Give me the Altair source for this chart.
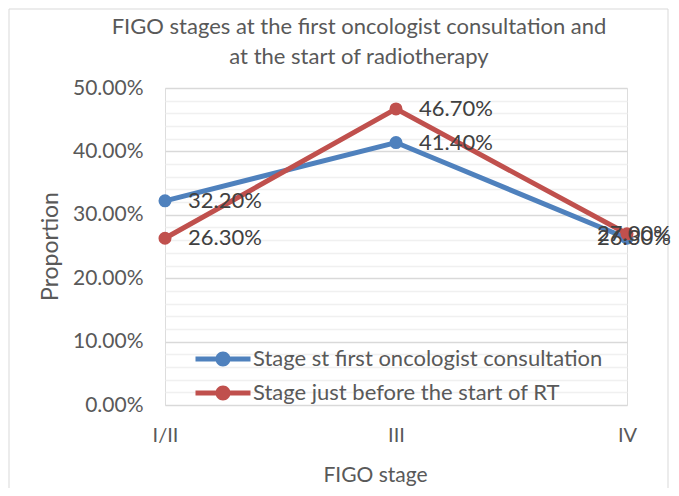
import altair as alt
import pandas as pd

stages = ["I/II", "III", "IV"]
series_names = ["Stage st first oncologist consultation", "Stage just before the start of RT"]
first_consult = [0.322, 0.414, 0.263]
before_rt = [0.263, 0.467, 0.270]
colors = ["#4F81BD", "#C0504D"]
y_ticks = [i / 100 for i in range(0, 52, 2)]
title_lines = ["FIGO stages at the first oncologist consultation and", "at the start of radiotherapy"]

rows = []
for name, vals in zip(series_names, [first_consult, before_rt]):
    for s, v in zip(stages, vals):
        rows.append({"stage": s, "series": name, "value": v})
df = pd.DataFrame(rows)

W, H = 462, 317
FONT = "Lato"
TXT = "#595959"

x_enc = alt.X(
    "stage:N", sort=stages,
    scale=alt.Scale(type="point", padding=0),
    axis=alt.Axis(
        title="FIGO stage", domain=False, ticks=False, grid=False,
        labelFontSize=20, labelColor=TXT, labelFont=FONT, labelPadding=20, labelAngle=0,
        titleFontSize=21, titleColor=TXT, titleFont=FONT, titleFontWeight="normal",
        titleX=210, titleY=70, titleBaseline="middle",
    ),
)
y_enc = alt.Y(
    "value:Q",
    scale=alt.Scale(domain=[0, 0.5], nice=False, zero=True),
    axis=alt.Axis(
        title="Proportion", values=y_ticks, format=".2%",
        labelExpr="round(datum.value*100) % 10 === 0 ? datum.label : ''",
        domain=False, ticks=False,
        gridColor={"condition": {"test": "round(datum.value*100) % 10 === 0", "value": "#D9D9D9"}, "value": "#F0F0F0"},
        gridWidth=1.3,
        labelFontSize=21, labelColor=TXT, labelFont=FONT, labelPadding=22,
        titleFontSize=23, titleColor=TXT, titleFont=FONT, titleFontWeight="normal",
        titleX=-115, titleY=158, titleBaseline="middle", titleAngle=-90,
    ),
)

color_scale = alt.Scale(domain=series_names, range=colors)

line_layers = [
    alt.Chart(df).transform_filter(alt.datum.series == name).mark_line(strokeWidth=5, color=col).encode(
        x=x_enc, y=y_enc,
    )
    for name, col in zip(series_names, colors)
]

legend_path = ("M-2.75,-0.25 L2.75,-0.25 L2.75,0.25 L-2.75,0.25 Z "
               "M-0.75,0 A0.75,0.75 0 1,1 0.75,0 A0.75,0.75 0 1,1 -0.75,0 Z")

points = alt.Chart(df).mark_point(filled=True, size=170, opacity=1).encode(
    x=x_enc, y=y_enc,
    color=alt.Color("series:N", scale=color_scale, legend=alt.Legend(
        title=None, orient="none", legendX=47, legendY=260,
        symbolType=legend_path, symbolSize=400, symbolStrokeWidth=0, symbolOpacity=1,
        labelFontSize=22, labelColor=TXT, labelFont=FONT, labelOffset=19,
        labelLimit=500, rowPadding=12, padding=0,
    )),
)

label_style = dict(align="left", baseline="middle", fontSize=22, font=FONT, color="#404040")
labels_main = alt.Chart(df).transform_filter(alt.datum.stage != "IV").mark_text(dx=23, **label_style).encode(
    x=x_enc, y=y_enc, text=alt.Text("value:Q", format=".2%"),
)
labels_end = alt.Chart(df).transform_filter(alt.datum.stage == "IV").mark_text(dx=-30, **label_style).encode(
    x=x_enc, y=y_enc, text=alt.Text("value:Q", format=".2%"),
)

border = alt.Chart(pd.DataFrame({"a": [0]})).mark_rect(
    fill=None, stroke="#D9D9D9", strokeWidth=1
).encode(
    x=alt.value(-156), x2=alt.value(503), y=alt.value(-79), y2=alt.value(402)
)

chart = alt.layer(border, *line_layers, points, labels_main, labels_end).properties(
    width=W, height=H,
    title=alt.TitleParams(
        text=title_lines, fontSize=22, font=FONT, color=TXT, fontWeight="normal",
        anchor="middle", dx=-37, offset=-60, lineHeight=30,
    ),
    padding={"left": 157, "top": 80, "right": 44, "bottom": 83},
    autosize=alt.AutoSizeParams(type="none"),
).configure_view(stroke=None).configure(background="white")

chart.save("out.html", embed_options={"renderer": "svg", "actions": False})
